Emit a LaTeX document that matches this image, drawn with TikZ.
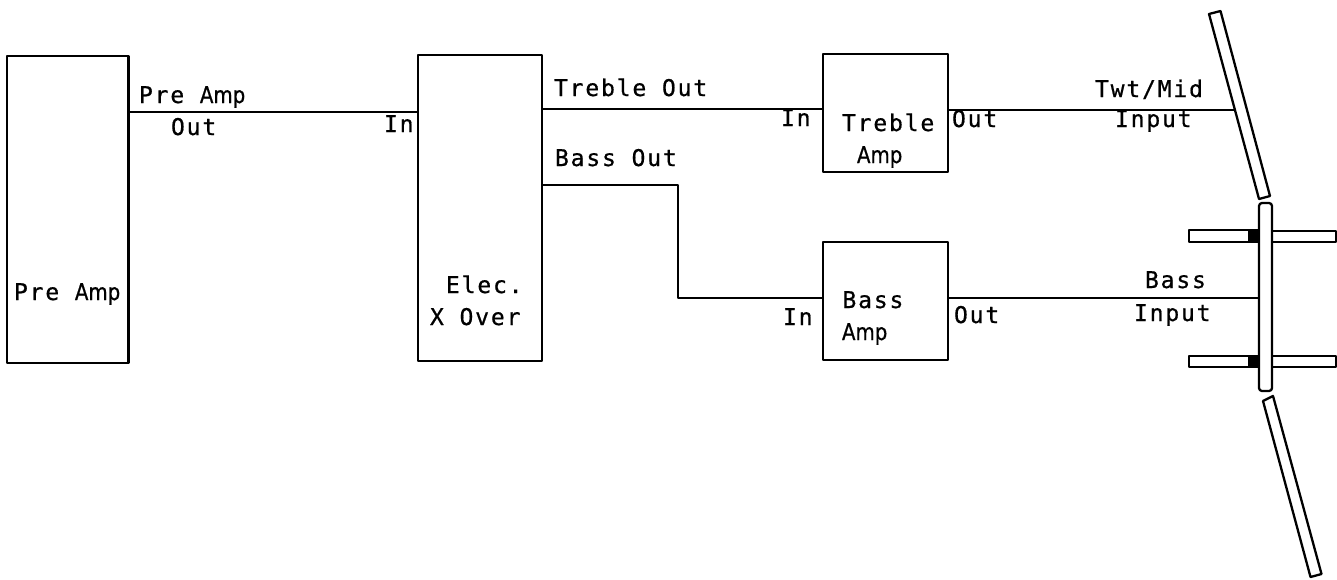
\documentclass[tikz,border=0pt]{standalone}
\usepackage{fontspec}
\newfontfamily\scanfont[LetterSpace=8,FakeBold=0.7]{DejaVu Sans Mono}
\newfontfamily\ampfont[FakeStretch=0.86,FakeBold=0.7]{DejaVu Sans}
\newcommand{\ampw}{{\ampfont Amp}}
\tikzset{
  x=1pt,y=-1pt,
  every path/.style={line join=round},
  blockbox/.style={draw,rectangle,inner sep=0pt,outer sep=0pt,line width=2.3pt},
  wirelabel/.style={anchor=base west,inner sep=0pt,outer sep=0pt,font=\scanfont\fontsize{23}{23}\selectfont},
  wire/.style={line width=2.2pt},
  panel/.style={draw,fill=white,line width=2.3pt},
  magnet/.style={fill=black,draw=black,line width=0.5pt}
}
\begin{document}
\begin{tikzpicture}
\useasboundingbox (0,0) rectangle (1337,579);
\fill[white] (0,0) rectangle (1337,579);
% blocks
\node[blockbox,minimum width=121.5pt,minimum height=307pt] (pre) at (67.75,209.5) {};
\node[blockbox,minimum width=124pt,minimum height=306pt] (xover) at (480,208) {};
\node[blockbox,minimum width=125pt,minimum height=118pt] (treble) at (885.5,113) {};
\node[blockbox,minimum width=125pt,minimum height=118pt] (bass) at (885.5,301) {};
% speaker panels
\coordinate (twt) at (1234,110);
\coordinate (woof) at (1259,297);
\draw[panel] (1209,14) -- (1220.5,11) -- (1270,196) -- (1259,199) -- cycle;
\draw[panel] (1263,401) -- (1273,396) -- (1321.5,574) -- (1310.5,577) -- cycle;
\draw[panel] (1189,230) rectangle (1262,242);
\draw[panel] (1268,231) rectangle (1336,242);
\draw[panel] (1189,356) rectangle (1262,367);
\draw[panel] (1268,356) rectangle (1336,367);
\fill[magnet] (1248,231) rectangle (1260,242);
\fill[magnet] (1248,356) rectangle (1260,367);
\draw[panel,rounded corners=3pt] (1259,203) rectangle (1272,391);
% ports
\coordinate (preout) at (pre.east |- 0,112);
\coordinate (xin) at (xover.west |- 0,112);
\coordinate (xtreble) at (xover.east |- 0,109);
\coordinate (tin) at (treble.west |- 0,109);
\coordinate (xbass) at (xover.east |- 0,185);
\coordinate (bend1) at (678,185);
\coordinate (bend2) at (678,298);
\coordinate (bin) at (bass.west |- 0,298);
\coordinate (tout) at (treble.east |- 0,110);
\coordinate (bout) at (bass.east |- 0,298);
% connectors
\draw[wire] (preout) -- (xin);
\draw[wire] (xtreble) -- (tin);
\draw[wire] (xbass) -- (bend1) -- (bend2) -- (bin);
\draw[wire] (tout) -- (twt);
\draw[wire] (bout) -- (woof |- bout);
% labels
\node[wirelabel] (l1) at (139,103) {Pre \ampw};
\node[wirelabel] (l2) at (171,135) {Out};
\node[wirelabel] (l3) at (384,132) {In};
\node[wirelabel] (l4) at (14,300) {Pre \ampw};
\node[wirelabel] (l5) at (446,293) {Elec.};
\node[wirelabel] (l6) at (430,325) {X Over};
\node[wirelabel] (l7) at (554,96) {Treble Out};
\node[wirelabel] (l8) at (555,166) {Bass Out};
\node[wirelabel] (l9) at (781,126) {In};
\node[wirelabel] (l10) at (842,131) {Treble};
\node[wirelabel] (l11) at (857,163) {\ampw};
\node[wirelabel] (l12) at (952,127) {Out};
\node[wirelabel] (l13) at (842.5,308) {Bass};
\node[wirelabel] (l14) at (842,340) {\ampw};
\node[wirelabel] (l15) at (783,325) {In};
\node[wirelabel] (l16) at (954,323) {Out};
\node[wirelabel] (l17) at (1095,97) {Twt/Mid};
\node[wirelabel] (l18) at (1115,127) {Input};
\node[wirelabel] (l19) at (1145,288) {Bass};
\node[wirelabel] (l20) at (1134,321) {Input};
\end{tikzpicture}
\end{document}
